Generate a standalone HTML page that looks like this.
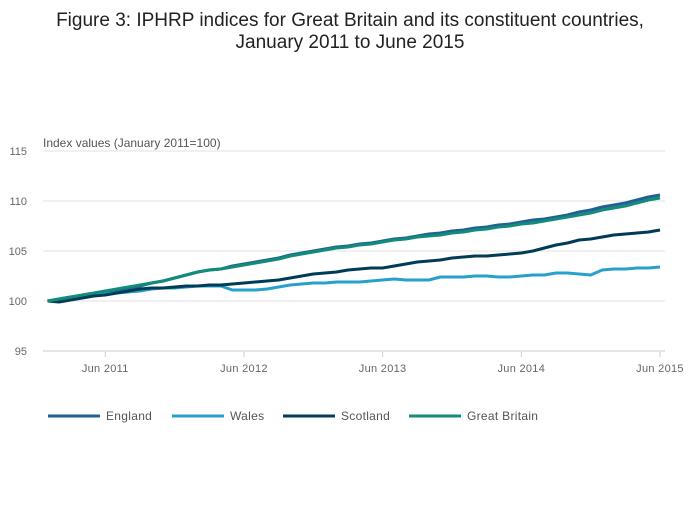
<!DOCTYPE html>
<html><head><meta charset="utf-8"><style>
body{margin:0;background:#fff;font-family:"Liberation Sans",sans-serif;}
svg text{font-family:"Liberation Sans",sans-serif;}
</style></head><body>
<svg id="chart" width="700" height="502" xmlns="http://www.w3.org/2000/svg">
<text x="350" y="26" text-anchor="middle" font-size="19" fill="#222">Figure 3: IPHRP indices for Great Britain and its constituent countries,</text>
<text x="350" y="48" text-anchor="middle" font-size="19" fill="#222">January 2011 to June 2015</text>
<text x="43" y="147" font-size="12" fill="#555">Index values (January 2011=100)</text>
<g id="grid"></g><g id="series"></g><g id="legend"></g>
</svg>
<script>
const yTicks=[95,100,105,110,115];
const xTickLabels=["Jun 2011","Jun 2012","Jun 2013","Jun 2014","Jun 2015"];
const xTickIndex=[5,17,29,41,53];
const seriesNames=["England","Wales","Scotland","Great Britain"];
const seriesColors=["#206095","#27a0cc","#003c57","#118c7b"];
const england=[100.0,100.2,100.4,100.5,100.7,100.9,101.1,101.3,101.5,101.8,102.0,102.3,
102.6,102.9,103.1,103.2,103.5,103.7,103.9,104.1,104.3,104.6,104.8,105.0,
105.2,105.4,105.5,105.7,105.8,106.0,106.2,106.3,106.5,106.7,106.8,107.0,
107.1,107.3,107.4,107.6,107.7,107.9,108.1,108.2,108.4,108.6,108.9,109.1,
109.4,109.6,109.8,110.1,110.4,110.6];
const wales=[100.0,100.1,100.3,100.4,100.6,100.7,100.8,100.9,101.0,101.2,101.3,101.3,
101.4,101.5,101.5,101.5,101.1,101.1,101.1,101.2,101.4,101.6,101.7,101.8,
101.8,101.9,101.9,101.9,102.0,102.1,102.2,102.1,102.1,102.1,102.4,102.4,
102.4,102.5,102.5,102.4,102.4,102.5,102.6,102.6,102.8,102.8,102.7,102.6,
103.1,103.2,103.2,103.3,103.3,103.4];
const scotland=[100.0,99.9,100.1,100.3,100.5,100.6,100.8,101.0,101.2,101.3,101.3,101.4,
101.5,101.5,101.6,101.6,101.7,101.8,101.9,102.0,102.1,102.3,102.5,102.7,
102.8,102.9,103.1,103.2,103.3,103.3,103.5,103.7,103.9,104.0,104.1,104.3,
104.4,104.5,104.5,104.6,104.7,104.8,105.0,105.3,105.6,105.8,106.1,106.2,
106.4,106.6,106.7,106.8,106.9,107.1];
const greatBritain=[100.0,100.2,100.4,100.6,100.8,101.0,101.2,101.4,101.6,101.8,102.0,102.3,
102.6,102.9,103.1,103.2,103.4,103.6,103.8,104.0,104.2,104.5,104.7,104.9,
105.1,105.3,105.4,105.6,105.7,105.9,106.1,106.2,106.4,106.5,106.6,106.8,
106.9,107.1,107.2,107.4,107.5,107.7,107.8,108.0,108.2,108.4,108.6,108.8,
109.1,109.3,109.5,109.8,110.1,110.3];
const allSeries=[england,wales,scotland,greatBritain];
const NS="http://www.w3.org/2000/svg";
const x0=47.5,x1=660,yBase=301,yUnit=10;
function xs(i){return x0+i*(x1-x0)/53;}
function ys(v){return yBase-(v-100)*yUnit;}
function mk(tag,attrs,parent){const e=document.createElementNS(NS,tag);for(const k in attrs)e.setAttribute(k,attrs[k]);parent.appendChild(e);return e;}
const grid=document.getElementById('grid');
yTicks.forEach(v=>{
 const l=mk('line',{x1:43,x2:665,y1:ys(v),y2:ys(v),stroke:v===95?'#ccc':'#e2e2e2','stroke-width':1},grid);
 
 
 const t=mk('text',{x:27,y:ys(v)+4,'text-anchor':'end','font-size':11,fill:'#666'},grid);
 t.textContent=v;
 
 
});
xTickLabels.forEach((lab,k)=>{
 const x=xs(xTickIndex[k]);
 const tk=mk('line',{x1:x,x2:x,y1:352,y2:357,stroke:'#ccc'},grid);
 
 
 const t=mk('text',{x:x,y:372,'text-anchor':'middle','font-size':11,fill:'#666','letter-spacing':'0.3'},grid);
 t.textContent=lab;
 
 
});
const sg=document.getElementById('series');
allSeries.forEach((d,s)=>{
 const p=mk('polyline',{points:d.map((v,i)=>xs(i).toFixed(1)+','+ys(v).toFixed(1)).join(' '),fill:'none',stroke:seriesColors[s],'stroke-width':3,'stroke-linejoin':'round'},sg);
 
 
});
const lg=document.getElementById('legend');
const legX=[48,172,283,409];
seriesNames.forEach((n,s)=>{
 const g=mk('g',{},lg);
 
 
 mk('line',{x1:legX[s],x2:legX[s]+52,y1:416,y2:416,stroke:seriesColors[s],'stroke-width':3},g);
 const t=mk('text',{x:legX[s]+58,y:420,'font-size':12,fill:'#555','letter-spacing':'0.3'},g);
 t.textContent=n;
});
</script>
</body></html>
